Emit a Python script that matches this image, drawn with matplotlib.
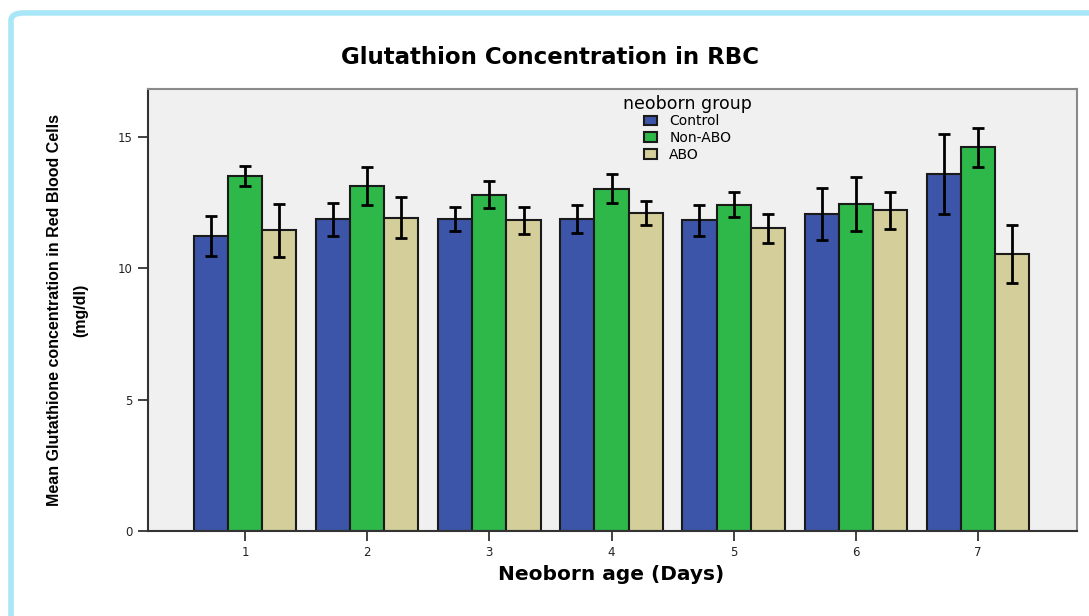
import numpy as np
import matplotlib.pyplot as plt
from matplotlib.patches import FancyBboxPatch

days = [1, 2, 3, 4, 5, 6, 7]
groups = ["Control", "Non-ABO", "ABO"]
colors = ["#3D55A8", "#2EB84A", "#D4CF9A"]

control_mean = [11.24, 11.88, 11.88, 11.88, 11.84, 12.07, 13.59]
control_lo = [10.47, 11.24, 11.41, 11.33, 11.23, 11.08, 12.07]
control_hi = [11.99, 12.50, 12.32, 12.41, 12.41, 13.07, 15.10]

nonabo_mean = [13.51, 13.12, 12.80, 13.04, 12.41, 12.45, 14.61]
nonabo_lo = [13.14, 12.40, 12.31, 12.49, 11.94, 11.42, 13.87]
nonabo_hi = [13.91, 13.86, 13.32, 13.61, 12.90, 13.48, 15.34]

abo_mean = [11.46, 11.93, 11.84, 12.12, 11.52, 12.21, 10.54]
abo_lo = [10.44, 11.15, 11.32, 11.66, 10.95, 11.50, 9.43]
abo_hi = [12.47, 12.70, 12.32, 12.57, 12.08, 12.90, 11.66]

means = [control_mean, nonabo_mean, abo_mean]
lows = [control_lo, nonabo_lo, abo_lo]
highs = [control_hi, nonabo_hi, abo_hi]

fig = plt.figure(figsize=(10.89, 6.16), dpi=100)
ax = fig.add_axes([148 / 1089, 1 - 531 / 616, 929 / 1089, 442 / 616])
ax.set_facecolor("#F0F0F0")

x = np.array(days, dtype=float)
width = 0.28
for i, (g, c) in enumerate(zip(groups, colors)):
    m = np.array(means[i])
    err = [m - np.array(lows[i]), np.array(highs[i]) - m]
    ax.bar(x + (i - 1) * width, m, width, color=c, edgecolor="#1a1a1a",
           linewidth=1.5, label=g, zorder=2)
    ax.errorbar(x + (i - 1) * width, m, yerr=err, fmt="none", ecolor="black",
                elinewidth=2, capsize=4, capthick=2, zorder=3)

ax.set_xlim(0.206, 7.81)
ax.set_ylim(0, 16.83)
ax.set_xticks(days)
ax.set_yticks([0, 5, 10, 15])
ax.tick_params(axis="both", direction="out", length=7, width=1.2,
               colors="#222222", labelsize=8.5, pad=4)

for side in ["left", "bottom"]:
    ax.spines[side].set_color("#333333")
    ax.spines[side].set_linewidth(1.5)
for side in ["top", "right"]:
    ax.spines[side].set_color("#8a8a8a")
    ax.spines[side].set_linewidth(1.5)

ax.set_xlabel("Neoborn age (Days)", fontsize=14.5, fontweight="bold")
ax.xaxis.set_label_coords(0.498, -0.078)
ax.set_ylabel("Mean Glutathione concentration in Red Blood Cells\n(mg/dl)",
              fontsize=11.5, fontweight="bold", linespacing=2.0,
              family=["Liberation Sans", "DejaVu Sans"])
ax.yaxis.set_label_coords(-0.064, 0.5)

leg = ax.legend(title="neoborn group", loc="upper left",
                bbox_to_anchor=((614 - 148) / 929, (531 - 86) / 442),
                frameon=False, fontsize=10, title_fontsize=12.5,
                handlelength=0.95, handleheight=0.7, handletextpad=0.9,
                labelspacing=0.2, borderpad=0.15, alignment="center")
leg._legend_box.sep = 1

fig.text(0.505, 1 - 58 / 616, "Glutathion Concentration in RBC",
         fontsize=16.5, fontweight="bold", ha="center", va="center")

border = FancyBboxPatch((11 / 1089, -0.05), 1.05, 0.979 + 0.05,
                        boxstyle="round,pad=0,rounding_size=0.012",
                        transform=fig.transFigure, facecolor="none",
                        edgecolor="#A9E6F7", linewidth=4, zorder=-1)
fig.patches.append(border)

fig.savefig("out.png", dpi=100)
